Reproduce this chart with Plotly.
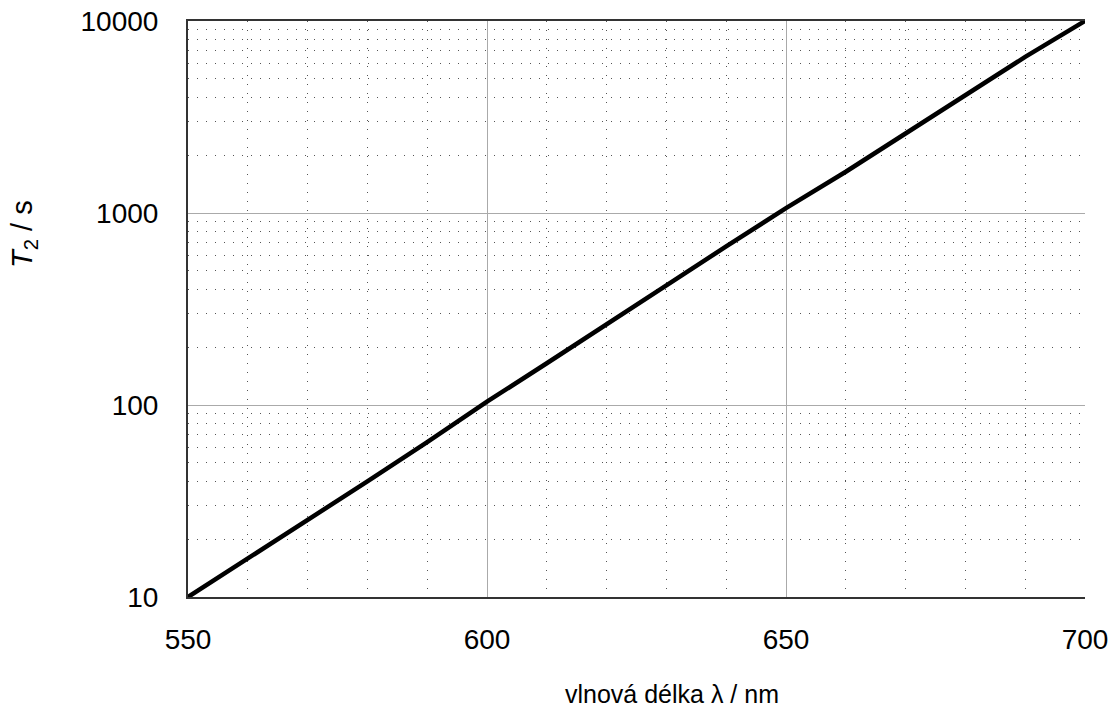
import plotly.graph_objects as go

wavelength = [550, 560, 570, 580, 590, 600, 610, 620, 630, 640, 650, 660, 670, 680, 690, 700]
t2_seconds = [10, 15.8, 25, 40, 64, 104, 165, 265, 420, 670, 1060, 1640, 2600, 4100, 6500, 10000]

x_ticks = [550, 600, 650, 700]
x_minor = [560, 570, 580, 590, 610, 620, 630, 640, 660, 670, 680, 690]
y_ticks = [10, 100, 1000, 10000]
y_tick_text = ["10", "100", "1000", "10000"]
y_minor = [m * d for d in (10, 100, 1000) for m in range(2, 10)]

FONT = "Liberation Sans, Arial, sans-serif"

fig = go.Figure()
fig.add_trace(go.Scatter(
    x=wavelength, y=t2_seconds, mode="lines",
    line=dict(color="black", width=4.5), showlegend=False,
))

fig.update_layout(
    width=1112, height=711,
    margin=dict(l=188, r=27, t=21, b=114, autoexpand=False),
    paper_bgcolor="white", plot_bgcolor="white",
    font=dict(family=FONT, size=28, color="black"),
    xaxis=dict(
        range=[550, 700], tickvals=x_ticks, automargin=False,
        showline=True, linecolor="#333", linewidth=2, mirror=True,
        showgrid=True, gridcolor="#aaa", gridwidth=1,
        ticks="outside", ticklen=16, tickcolor="rgba(0,0,0,0)",
        zeroline=False,
        minor=dict(tickvals=x_minor, showgrid=True, gridcolor="#555",
                   griddash="1px,8px", gridwidth=1, ticks=""),
    ),
    yaxis=dict(
        type="log", range=[1, 4], tickvals=y_ticks, ticktext=y_tick_text,
        automargin=False,
        showline=True, linecolor="#333", linewidth=2, mirror=False,
        showgrid=True, gridcolor="#aaa", gridwidth=1,
        ticks="outside", ticklen=22, tickcolor="rgba(0,0,0,0)",
        zeroline=False,
        minor=dict(tickvals=y_minor, showgrid=True, gridcolor="#555",
                   griddash="1px,8px", gridwidth=1, ticks=""),
    ),
    annotations=[
        dict(text="vlnová délka λ / nm", xref="paper", yref="paper",
             x=0.54, y=-0.168, xanchor="center", yanchor="middle",
             showarrow=False, font=dict(size=25, family=FONT)),
        dict(text="<i>T</i><sub>2</sub> / s", xref="paper", yref="paper",
             x=-0.183, y=0.63, xanchor="center", yanchor="middle",
             textangle=-90, showarrow=False, font=dict(size=29, family=FONT)),
    ],
)

fig.write_html("out.html")
